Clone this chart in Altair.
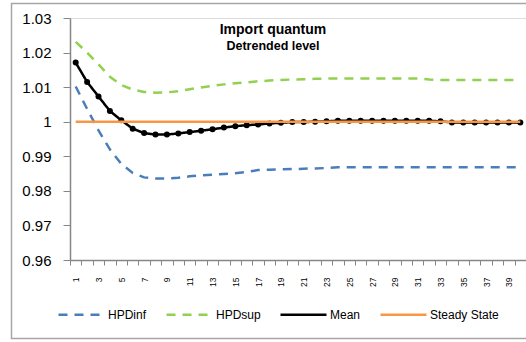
import altair as alt
import pandas as pd

# Horizon (quarters after the shock)
steps = list(range(1, 41))

# Posterior bands and mean response, detrended import quantum
hpd_inf = [1.0102, 1.0037, 0.9975, 0.9920, 0.9878, 0.9852, 0.9839, 0.9836, 0.9836, 0.9838,
           0.9842, 0.9845, 0.9847, 0.9849, 0.9851, 0.9855, 0.9860, 0.9861, 0.9862, 0.9863,
           0.9864, 0.9865, 0.9866, 0.9868, 0.9868, 0.9868, 0.9868, 0.9868, 0.9868, 0.9868,
           0.9868, 0.9868, 0.9868, 0.9868, 0.9868, 0.9868, 0.9868, 0.9868, 0.9868, 0.9868]
hpd_sup = [1.0231, 1.0200, 1.0166, 1.0130, 1.0106, 1.0093, 1.0086, 1.0084, 1.0085, 1.0088,
           1.0094, 1.0099, 1.0104, 1.0108, 1.0111, 1.0114, 1.0117, 1.0119, 1.0121, 1.0122,
           1.0123, 1.0124, 1.0125, 1.0125, 1.0125, 1.0125, 1.0125, 1.0125, 1.0125, 1.0125,
           1.0125, 1.0122, 1.0121, 1.0121, 1.0121, 1.0121, 1.0121, 1.0121, 1.0121, 1.0121]
mean = [1.0171, 1.0115, 1.0073, 1.0031, 1.0004, 0.9980, 0.9967, 0.9963, 0.9963, 0.9966,
        0.9970, 0.9974, 0.9978, 0.9983, 0.9987, 0.9990, 0.9992, 0.9995, 0.9997, 0.9999,
        0.9999, 1.0000, 1.0001, 1.0003, 1.0003, 1.0003, 1.0003, 1.0003, 1.0003, 1.0003,
        1.0003, 1.0003, 1.0001, 0.9998, 0.9998, 0.9998, 0.9998, 0.9998, 0.9998, 0.9998]
steady = [1.0] * 40

series_names = ["HPDinf", "HPDsup", "Mean", "Steady State"]
series_colors = ["#4A7EBB", "#92D050", "#000000", "#F79646"]
series_dashes = [[9, 7], [9, 7], [1, 0], [1, 0]]
series_widths = [2.5, 2.5, 3.5, 2.5]
y_ticks = [0.96, 0.97, 0.98, 0.99, 1.0, 1.01, 1.02, 1.03]

rows = []
for name, vals in zip(series_names, [hpd_inf, hpd_sup, mean, steady]):
    for t, v in zip(steps, vals):
        rows.append({"t": t, "value": v, "series": name})
df = pd.DataFrame(rows)

FONT = "Liberation Sans"
GRAY = "#868686"

x_enc = alt.X(
    "t:O",
    scale=alt.Scale(type="band", paddingInner=0, paddingOuter=0),
    axis=alt.Axis(
        title=None, labelAngle=-90, labelFontSize=8.5, labelFont=FONT,
        labelColor="#000000", labelExpr="datum.value % 2 == 1 ? datum.label : ''",
        tickBand="extent", tickSize=5, tickColor=GRAY, domainColor=GRAY,
        domainWidth=1.5, labelPadding=12, grid=False,
    ),
)
y_enc = alt.Y(
    "value:Q",
    scale=alt.Scale(domain=[0.96, 1.03], nice=False, zero=False),
    axis=alt.Axis(
        title=None, values=y_ticks, format=".2~f", labelFontSize=15,
        labelFont=FONT, labelColor="#000000", tickSize=7, tickColor=GRAY,
        domainColor=GRAY, domainWidth=1.5, labelPadding=12, grid=False,
    ),
)

legend = alt.Legend(
    title=None, orient="none", direction="horizontal", legendX=-13, legendY=272,
    symbolSize=2116, labelFontSize=12, labelFont=FONT, labelColor="#000000",
    labelOffset=2, columnPadding=14,
)
color_enc = alt.Color("series:N", scale=alt.Scale(domain=series_names, range=series_colors), legend=legend)
dash_enc = alt.StrokeDash("series:N", scale=alt.Scale(domain=series_names, range=series_dashes), legend=legend)
width_enc = alt.StrokeWidth("series:N", scale=alt.Scale(domain=series_names, range=series_widths), legend=legend)

base = alt.Chart(df).encode(x=x_enc, y=y_enc)

bands = base.transform_filter(alt.FieldOneOfPredicate(field="series", oneOf=["HPDinf", "HPDsup"])).mark_line().encode(
    color=color_enc, strokeDash=dash_enc, strokeWidth=width_enc)
mean_line = base.transform_filter(alt.datum.series == "Mean").mark_line().encode(
    color=color_enc, strokeDash=dash_enc, strokeWidth=width_enc)
mean_pts = base.transform_filter(alt.datum.series == "Mean").mark_circle(size=36, opacity=1, color="#000000")
steady_line = base.transform_filter(alt.datum.series == "Steady State").mark_line().encode(
    color=color_enc, strokeDash=dash_enc, strokeWidth=width_enc)

# Chart-area border
frame = alt.Chart(pd.DataFrame({"k": [0]})).mark_rect(
    fill=None, stroke="#A6A6A6", strokeWidth=1.5
).encode(x=alt.value(-58.5), x2=alt.value(470), y=alt.value(-14.5), y2=alt.value(320.5))

chart = alt.layer(frame, bands, mean_line, mean_pts, steady_line).properties(
    width=456, height=242,
    autosize=alt.AutoSizeParams(type="none"),
    padding={"left": 70, "top": 18, "right": 0, "bottom": 82},
    title=alt.TitleParams(
        text="Import quantum", subtitle="Detrended level", anchor="middle",
        font=FONT, fontSize=14, fontWeight="bold", color="#000000",
        subtitleFont=FONT, subtitleFontSize=12.5, subtitleFontWeight="bold",
        subtitleColor="#000000", subtitlePadding=3, dx=-25, dy=54,
    ),
).configure_view(stroke=None).configure(background="#FFFFFF")

chart.save("out.html", embed_options={"renderer": "svg", "actions": False})
